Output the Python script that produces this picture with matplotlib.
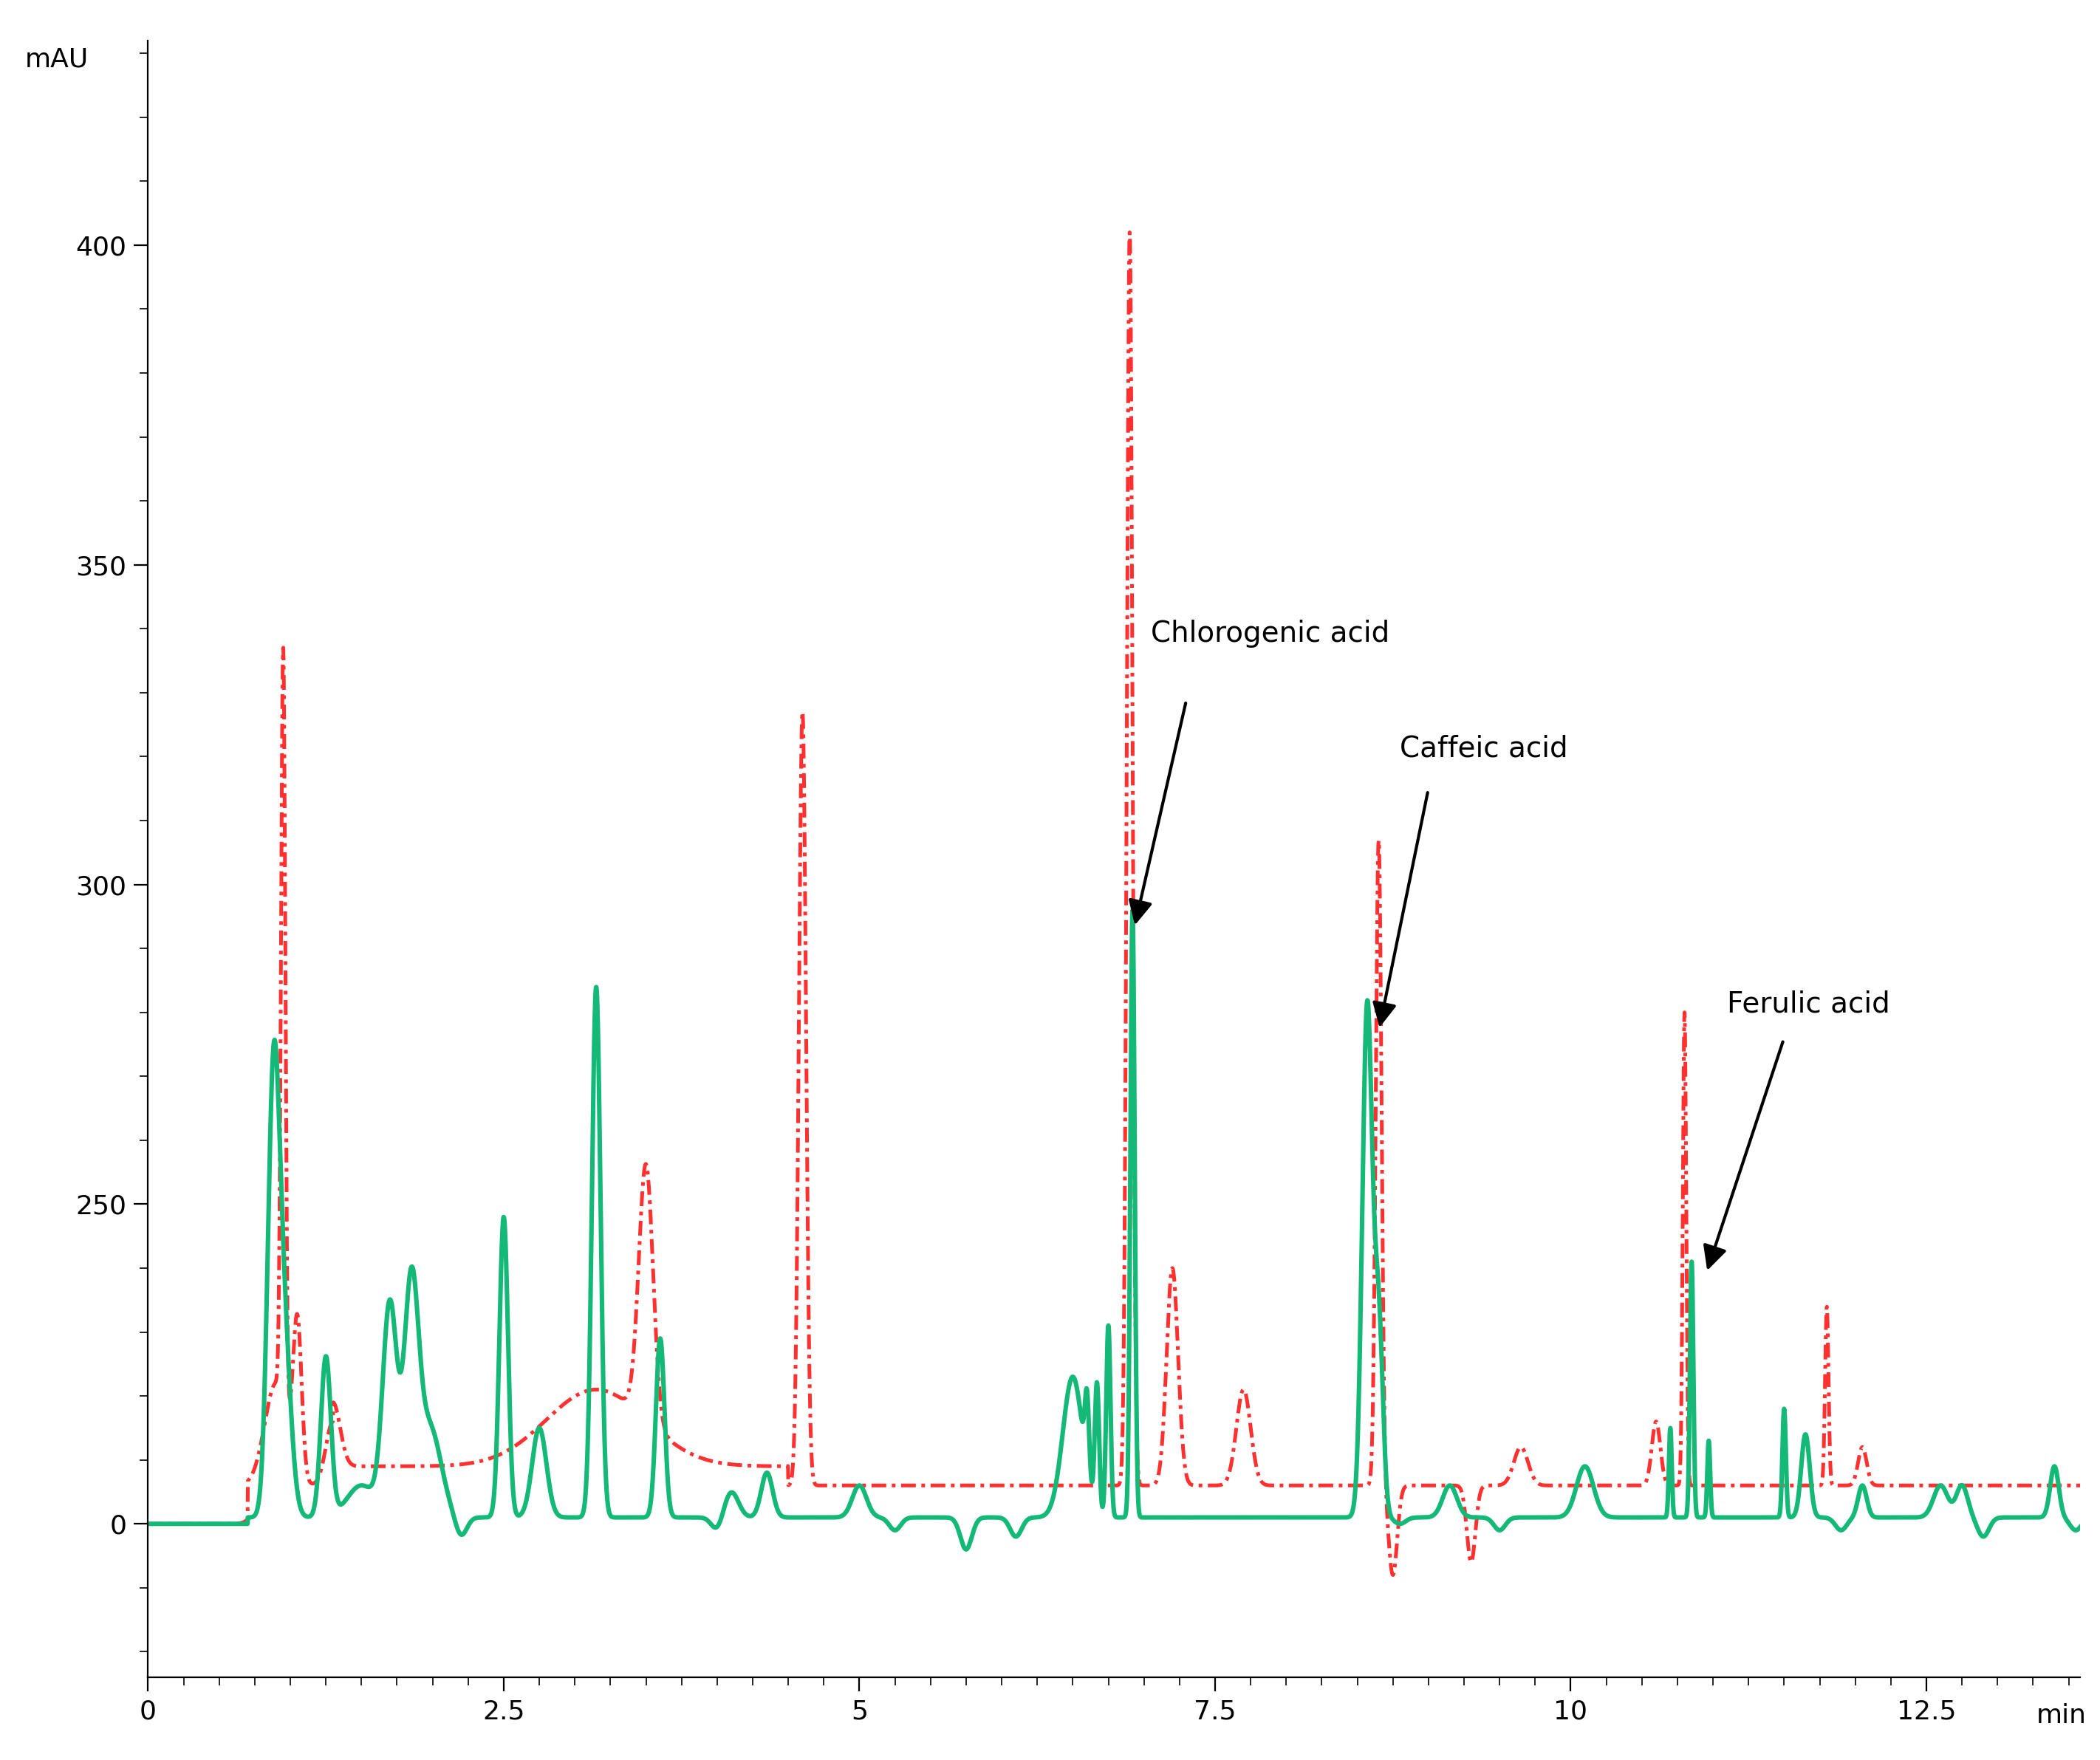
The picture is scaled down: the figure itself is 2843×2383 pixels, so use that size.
import numpy as np
import matplotlib.pyplot as plt

# Peaks: (retention time min, height, width sigma)
green_rt = [0.88, 0.95, 1.25, 1.5, 1.7, 1.85, 1.98, 2.5, 2.75, 3.15, 3.6, 4.1, 4.35, 5.0, 6.5, 6.6, 6.67, 6.75, 6.92, 8.57, 8.65, 9.15, 10.1, 10.7, 10.85, 10.97, 11.5, 11.65, 12.05, 12.6, 12.75, 13.4]
green_h  = [62, 30, 25, 5, 33, 35, 14, 47, 14, 83, 28, 4, 7, 5, 22, 12, 20, 30, 95, 80, 30, 5, 8, 14, 40, 12, 17, 13, 5, 5, 5, 8]
green_w  = [0.04, 0.05, 0.035, 0.1, 0.05, 0.05, 0.08, 0.03, 0.05, 0.03, 0.03, 0.05, 0.04, 0.05, 0.07, 0.015, 0.015, 0.015, 0.015, 0.035, 0.03, 0.05, 0.06, 0.01, 0.012, 0.01, 0.012, 0.03, 0.03, 0.05, 0.04, 0.03]
green_dips_rt = [2.2, 4.0, 5.25, 5.75, 6.1, 8.8, 9.5, 11.9, 12.9, 13.55]
green_dips_h  = [3, 2, 2, 5, 3, 1, 2, 2, 3, 2]

red_rt = [0.95, 0.9, 1.05, 1.3, 3.15, 3.5, 4.6, 6.9, 7.2, 7.7, 8.65, 9.65, 10.6, 10.8, 11.8, 12.05]
red_h  = [118, 16, 24, 10, 12, 40, 121, 196, 34, 15, 101, 6, 10, 74, 28, 6]
red_w  = [0.015, 0.08, 0.03, 0.05, 0.35, 0.05, 0.025, 0.02, 0.04, 0.05, 0.02, 0.05, 0.03, 0.012, 0.012, 0.03]
red_dips_rt = [8.75, 9.3]
red_dips_h  = [14, 12]

yticks = [0, 50, 100, 150, 200]
ytick_labels = ['0', '250', '300', '350', '400']
xticks = [0, 2.5, 5, 7.5, 10, 12.5]
xtick_labels = ['0', '2.5', '5', '7.5', '10', '12.5']

t = np.linspace(0, 13.58, 6000)
def g(rt, h, w):
    return h*np.exp(-0.5*((t-rt)/w)**2)

green = np.zeros_like(t)
for a, b, c in zip(green_rt, green_h, green_w):
    green += g(a, b, c)
for a, b in zip(green_dips_rt, green_dips_h):
    green -= g(a, b, 0.04)
green += np.where(t > 0.7, 1.0, 0)

red = np.where(t > 0.7, 6.0, 0.0) + np.where((t > 1.3) & (t < 4.5), 3, 0)
for a, b, c in zip(red_rt, red_h, red_w):
    red += g(a, b, c)
for a, b in zip(red_dips_rt, red_dips_h):
    red -= g(a, b, 0.03)

fig = plt.figure(figsize=(14.215, 11.915), dpi=200)
ax = fig.add_axes([0.0705, 0.047, 0.92, 0.93])
ax.plot(t, red, color='#ff3030', ls=(0, (4, 1.5, 1, 1.5)), lw=1.8)
ax.plot(t, green, color='#14b978', lw=2.2)
ax.set_xlim(0, 13.58)
ax.set_ylim(-24, 232)
ax.spines['top'].set_visible(False)
ax.spines['right'].set_visible(False)
ax.set_yticks(yticks, ytick_labels, fontsize=13)
ax.set_xticks(xticks, xtick_labels, fontsize=13)
ax.set_xticks(np.arange(0, 13.6, 0.25), minor=True)
ax.set_yticks(np.arange(-20, 232, 10), minor=True)
ax.tick_params(direction='out', length=7)
ax.tick_params(which='minor', length=4)
fig.text(0.012, 0.962, 'mAU', fontsize=13)
ax.text(13.45, -28, 'min', fontsize=13, ha='center', va='top')

ap = dict(arrowstyle='-|>', color='black', lw=1.5, mutation_scale=25)
ax.text(7.05, 138, 'Chlorogenic acid', fontsize=14)
ax.annotate('', xy=(6.93, 93), xytext=(7.3, 129), arrowprops=ap)
ax.text(8.8, 120, 'Caffeic acid', fontsize=14)
ax.annotate('', xy=(8.65, 77), xytext=(9.0, 115), arrowprops=ap)
ax.text(11.1, 80, 'Ferulic acid', fontsize=14)
ax.annotate('', xy=(10.95, 39), xytext=(11.5, 76), arrowprops=ap)
fig.savefig('out.png')
